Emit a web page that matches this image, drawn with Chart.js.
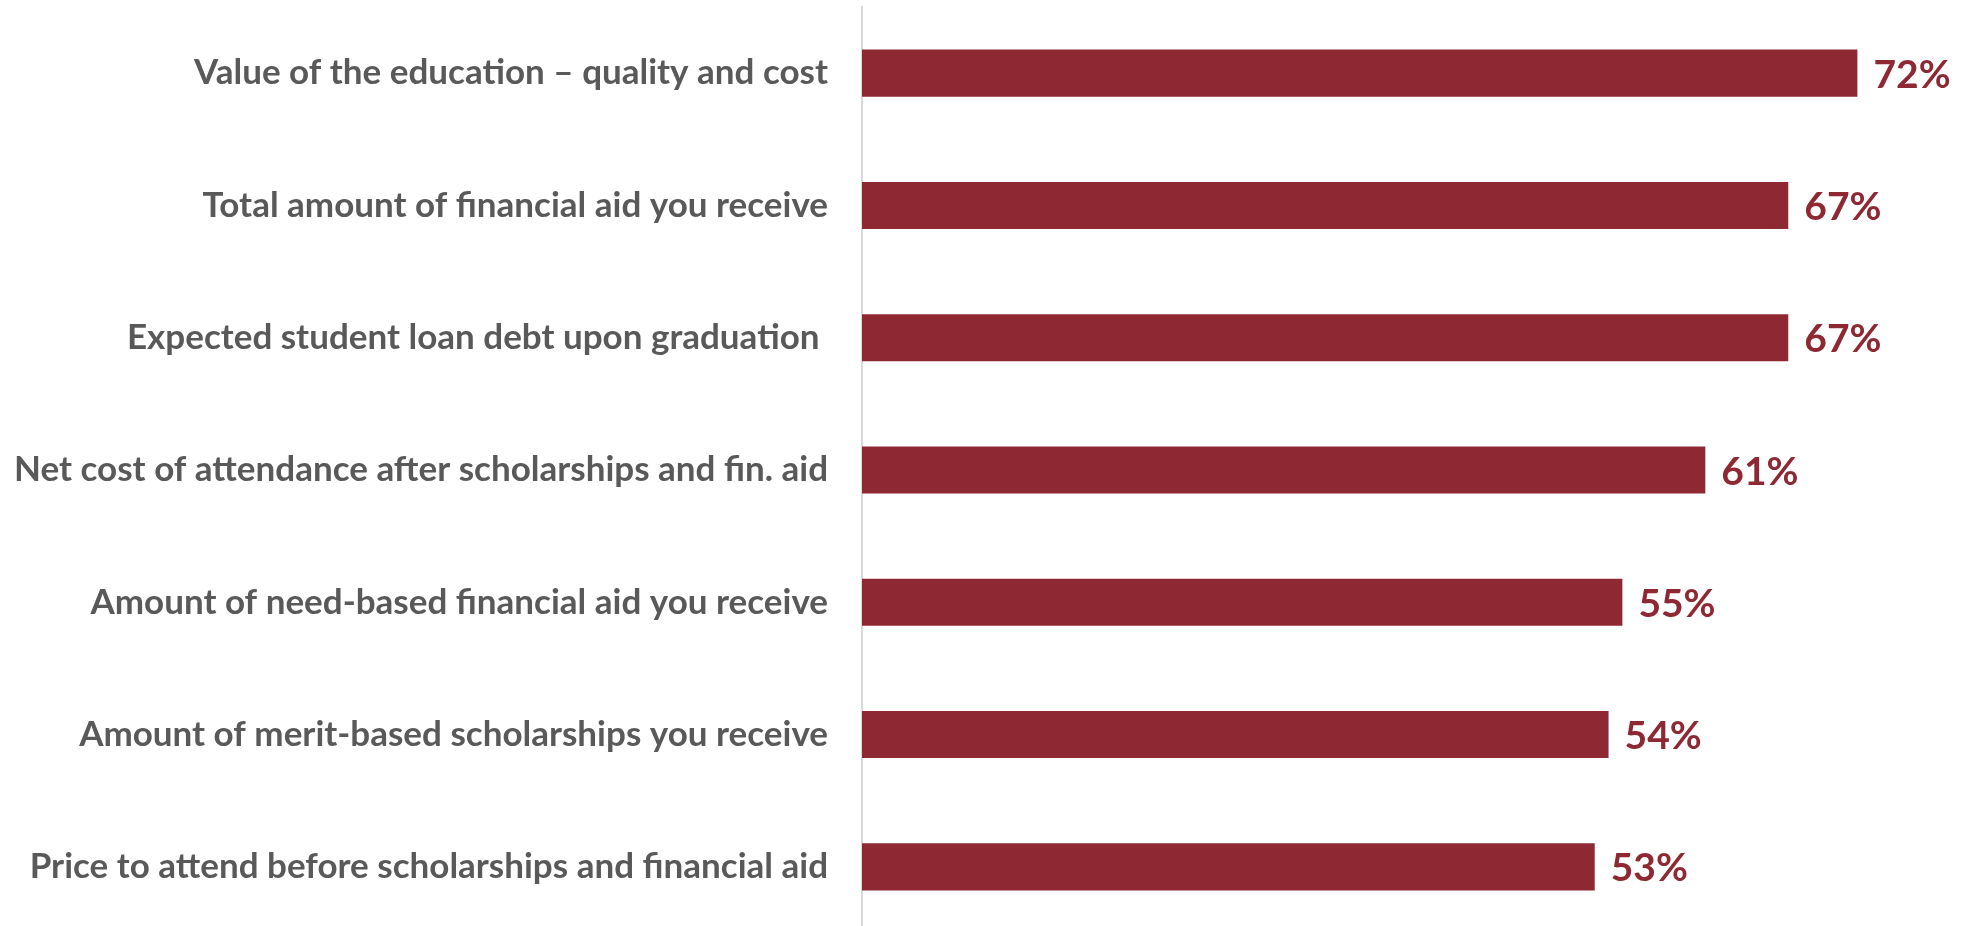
<!DOCTYPE html>
<html>
<head>
<meta charset="utf-8">
<title>Cost factors</title>
<script src="https://cdn.jsdelivr.net/npm/chart.js"></script>
<style>
  html, body { margin: 0; padding: 0; background: #fff; overflow: hidden; }
  #wrap { position: relative; width: 1968px; height: 933px; }
</style>
</head>
<body>
<div id="wrap"><canvas id="chart"></canvas></div>
<script>
const categories = [
  'Value of the education \u2013 quality and cost',
  'Total amount of financial aid you receive',
  'Expected student loan debt upon graduation ',
  'Net cost of attendance after scholarships and fin. aid',
  'Amount of need-based financial aid you receive',
  'Amount of merit-based scholarships you receive',
  'Price to attend before scholarships and financial aid'
];
const shares = [72, 67, 67, 61, 55, 54, 53];

const barColor = '#8E2934';
const labelFont = 'Lato, "Open Sans", sans-serif';

// percentage labels just past the end of each bar
const valueLabels = {
  id: 'valueLabels',
  afterDatasetsDraw(chart) {
    const ctx = chart.ctx;
    const meta = chart.getDatasetMeta(0);
    ctx.save();
    ctx.font = 'bold 39px ' + labelFont;
    ctx.fillStyle = barColor;
    ctx.textAlign = 'left';
    ctx.textBaseline = 'middle';
    meta.data.forEach((bar, i) => {
      ctx.fillText(shares[i] + '%', bar.x + 16, bar.y + 2);
    });
    ctx.restore();
  }
};

new Chart(document.getElementById('chart'), {
  type: 'bar',
  data: {
    labels: categories,
    datasets: [{
      data: shares,
      backgroundColor: barColor,
      categoryPercentage: 1,
      barPercentage: 0.356
    }]
  },
  options: {
    indexAxis: 'y',
    responsive: true,
    maintainAspectRatio: false,
    animation: false,
    layout: { padding: { top: 7, right: 0, bottom: 0, left: 0 } },
    plugins: {
      legend: { display: false },
      tooltip: { enabled: false }
    },
    scales: {
      x: {
        display: false,
        min: 0,
        max: 80
      },
      y: {
        // fixed label column; no extra vertical padding from the tick labels
        afterFit(axis) {
          axis.width = 862;
          axis.paddingTop = 0;
          axis.paddingBottom = 0;
        },
        grid: { display: false, drawTicks: false },
        border: { display: true, color: '#D9D9D9', width: 2 },
        ticks: {
          padding: 34,
          color: '#595959',
          font: { family: labelFont, size: 35, weight: 'bold' }
        }
      }
    }
  },
  plugins: [valueLabels]
});
</script>
</body>
</html>
